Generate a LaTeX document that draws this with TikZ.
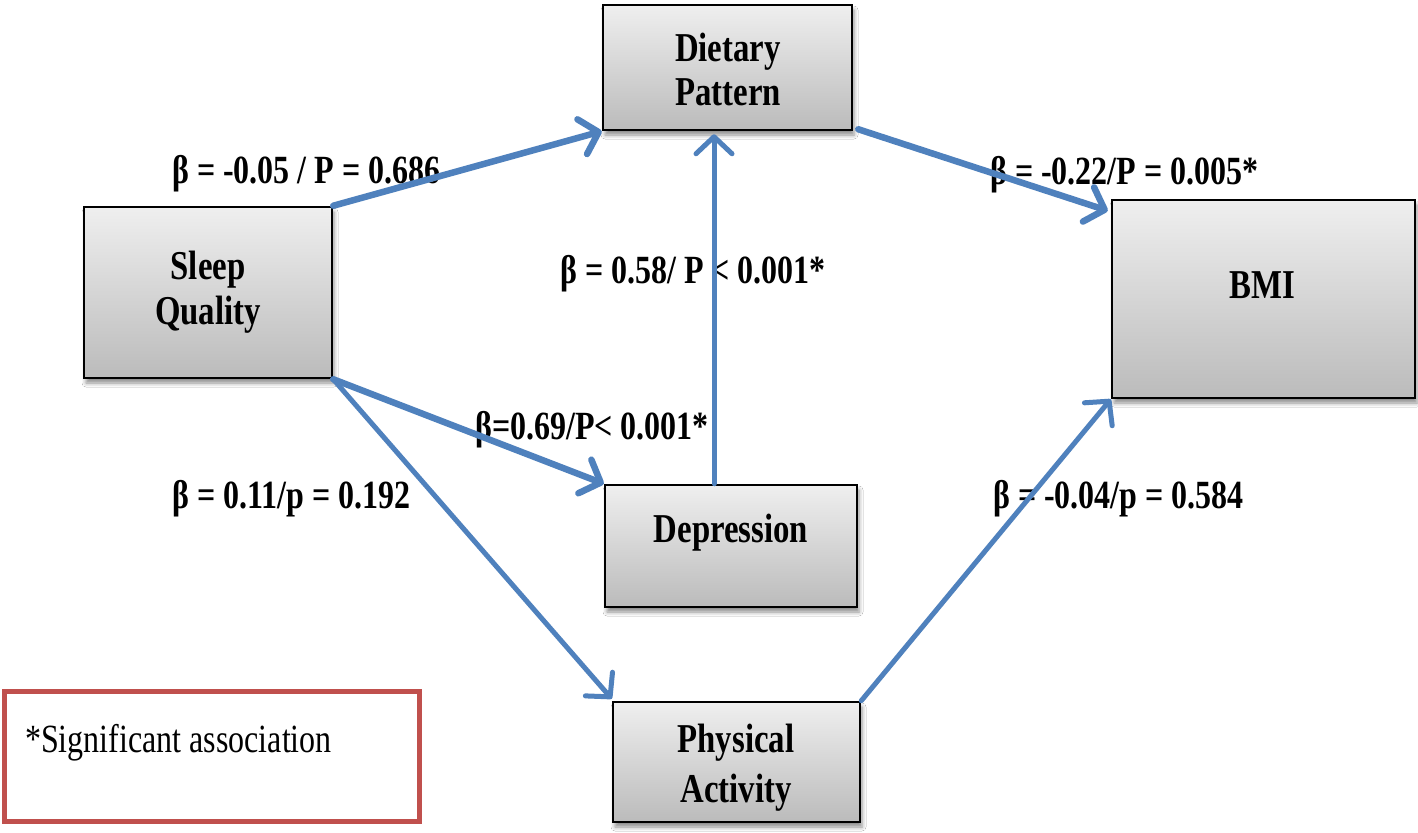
\documentclass[tikz,border=0pt]{standalone}
\usepackage{fontspec}
\newfontfamily\dfont[FakeStretch=0.8]{Liberation Serif}
\usetikzlibrary{arrows.meta,shadows.blur}
\definecolor{arrowblue}{HTML}{4F81BD}
\definecolor{legred}{HTML}{C0504D}
\definecolor{boxtop}{HTML}{EFEFEF}
\definecolor{boxbot}{HTML}{BBBBBB}
\begin{document}
\begin{tikzpicture}[x=1bp,y=-1bp,
  box/.style={draw=black, line width=2.5bp, top color=boxtop, bottom color=boxbot, inner sep=0pt,
    blur shadow={shadow xshift=2bp, shadow yshift=-5bp, shadow blur radius=4bp, shadow opacity=45}},
  boxtext/.style={font=\dfont\bfseries\fontsize{41bp}{46bp}\selectfont, anchor=base, inner sep=0pt},
  lbl/.style={font=\dfont\bfseries\fontsize{40bp}{46bp}\selectfont, anchor=base west, inner sep=0pt},
  conn/.style={draw=arrowblue, line width=6.5bp, line cap=round,
    -{Straight Barb[length=17bp,width=36bp,line cap=round,line join=round]}},
  thinconn/.style={line width=5bp}
]
\useasboundingbox (0,0) rectangle (1418,832);
\fill[white] (0,0) rectangle (1418,832);

% boxes
\node[box, minimum width=249bp, minimum height=125bp] (diet) at (727.5,67.5) {};
\node[box, minimum width=248bp, minimum height=171bp] (sleep) at (208,292.5) {};
\node[box, minimum width=303bp, minimum height=198bp] (bmi) at (1263.5,299) {};
\node[box, minimum width=252bp, minimum height=122bp] (dep) at (731,546) {};
\node[box, minimum width=247bp, minimum height=120bp] (phys) at (736.5,762) {};
\node[draw=legred, line width=5bp, minimum width=414bp, minimum height=130bp, inner sep=0pt] (legend) at (212,756) {};

% box texts
\node[boxtext] (dietA) at (728,61) {Dietary};
\node[boxtext] (dietB) at (728,105) {Pattern};
\node[boxtext] (sleepA) at (208,279) {Sleep};
\node[boxtext] (sleepB) at (208,324) {Quality};
\node[boxtext] (bmiT) at (1262,298) {BMI};
\node[boxtext] (depT) at (731,542) {Depression};
\node[boxtext] (physA) at (736,752) {Physical};
\node[boxtext] (physB) at (736,802) {Activity};
\node[font=\dfont\fontsize{40bp}{46bp}\selectfont, anchor=base west, inner sep=0pt] (legtext) at (25,752) {*Significant association};

% labels
\node[lbl] (l1) at (172,183) {β = -0.05 / P = 0.686};
\node[lbl] (l2) at (990,184) {β = -0.22/P = 0.005*};
\node[lbl] (l3) at (560,283) {β = 0.58/ P < 0.001*};
\node[lbl] (l4) at (475,439) {β=0.69/P< 0.001*};
\node[lbl] (l5) at (172,508) {β = 0.11/p = 0.192};
\node[lbl] (l6) at (993,508) {β = -0.04/p = 0.584};

% connectors
\draw[conn] (sleep.north east) -- (diet.south west);
\draw[conn] ([xshift=5bp,yshift=2bp]diet.south east) -- ([xshift=-3bp,yshift=-12bp]bmi.north west);
\draw[conn,thinconn] ([xshift=-17bp]dep.north) -- ([xshift=-17bp,yshift=-3bp]dep.north |- diet.south);
\draw[conn] (sleep.south east) -- (dep.north west);
\draw[conn,thinconn] (sleep.south east) -- ([yshift=2bp]phys.north west);
\draw[conn,thinconn] (phys.north east) -- (bmi.south west);
\end{tikzpicture}
\end{document}
